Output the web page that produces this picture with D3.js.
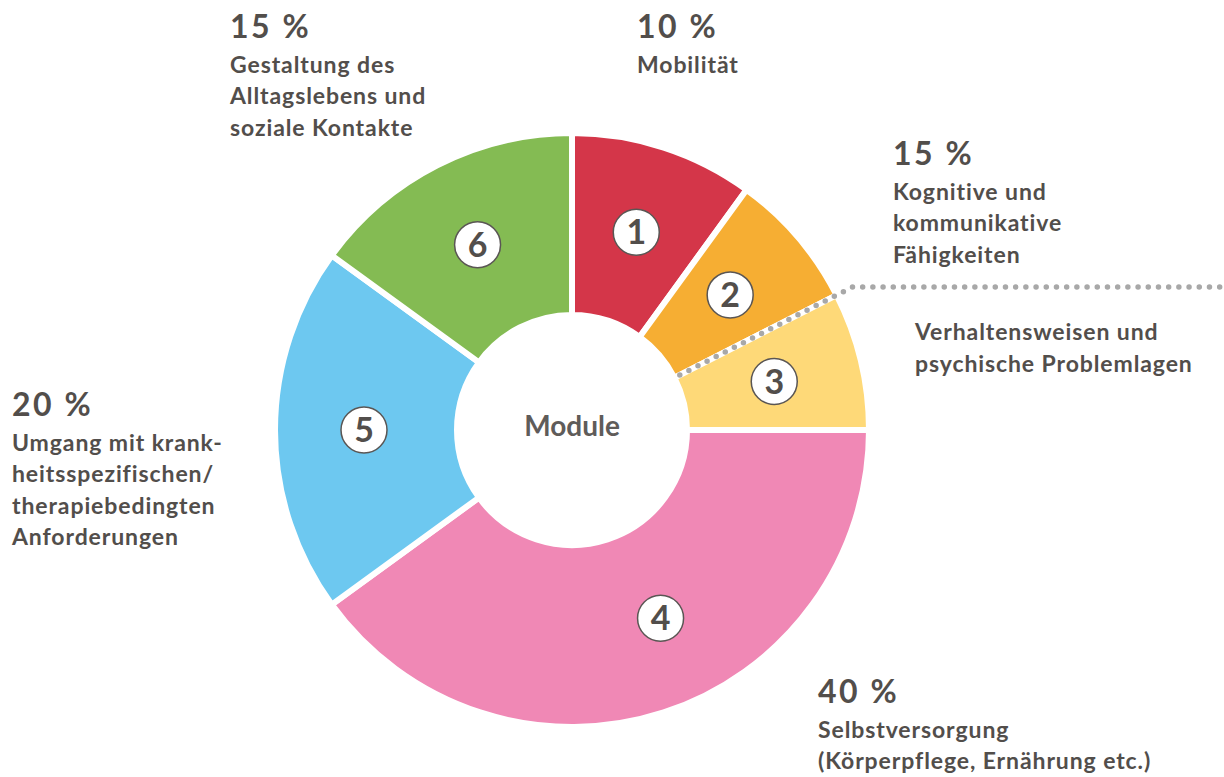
<!DOCTYPE html>
<html><head><meta charset="utf-8">
<script src="https://cdn.jsdelivr.net/npm/d3@7"></script>
<style>
html,body{margin:0;padding:0;background:#fff;}
svg{display:block;}
</style></head>
<body>
<svg id="chart" width="1224" height="777"></svg>
<script>
// ---- data ----
const moduleNumbers = ["1","2","3","4","5","6"];
const moduleShares = [10, 7.5, 7.5, 40, 20, 15];
const moduleColors = ["#d43649","#f6ae33","#fed978","#f088b5","#6dc8f0","#84bb53"];
const centerLabel = "Module";
const percentLabels = ["10 %","15 %","40 %","20 %","15 %"];
const labelLines = [
  ["Mobilität"],
  ["Kognitive und","kommunikative","Fähigkeiten"],
  ["Selbstversorgung","(Körperpflege, Ernährung etc.)"],
  ["Umgang mit krank-","heitsspezifischen/","therapiebedingten","Anforderungen"],
  ["Gestaltung des","Alltagslebens und","soziale Kontakte"]
];
const extraLabelLines = ["Verhaltensweisen und","psychische Problemlagen"];

// ---- layout ----
const svg = d3.select("#chart");
const cx = 572, cy = 430, rOuter = 297, rInner = 115;
const textColor = "#524e4b";
const font = "Lato, 'Open Sans', sans-serif";

const pie = d3.pie().sort(null).value(d => d).startAngle(0).endAngle(2*Math.PI);
const arcs = pie(moduleShares);
const arc = d3.arc().innerRadius(rInner).outerRadius(rOuter);
const g = svg.append("g").attr("transform", `translate(${cx},${cy})`);

g.selectAll("path.slice").data(arcs).join("path")
  .attr("class","slice")
  .attr("d", arc)
  .attr("fill", (d,i) => moduleColors[i])
  .attr("stroke", "#fff")
  .attr("stroke-width", 6)
  .attr("stroke-linejoin", "miter");

// dotted separator between module 2 and 3, extended to the right edge
const sepAngle = arcs[2].startAngle;
const dir = [Math.sin(sepAngle), -Math.cos(sepAngle)];
const yLine = 287 - cy;
const tBend = -yLine / Math.cos(sepAngle);
const p0 = [dir[0]*(rInner+6), dir[1]*(rInner+6)];
const p1 = [dir[0]*tBend, yLine];
const p2 = [1224 - cx + 10, yLine];
g.append("path")
  .attr("d", d3.line()([p0,p1,p2]))
  .attr("fill","none")
  .attr("stroke","#a8a8a8")
  .attr("stroke-width",5.5)
  .attr("stroke-linecap","round")
  .attr("stroke-dasharray","0 10.2");

// number badges (the large slice gets its badge a bit before its middle)
const rBadge = (rInner + rOuter) / 2 + 2;
const badgeFrac = i => (i === 3 ? 0.45 : 0.5);
const badgePos = (d,i) => {
  const a = d.startAngle + (d.endAngle - d.startAngle) * badgeFrac(i);
  return [Math.sin(a)*rBadge, -Math.cos(a)*rBadge];
};
const badges = g.selectAll("g.badge").data(arcs).join("g")
  .attr("class","badge")
  .attr("transform", (d,i) => `translate(${badgePos(d,i)})`);
badges.append("circle").attr("r", 23).attr("fill","#fff")
  .attr("stroke", "#5a5654").attr("stroke-width", 1.5);
badges.append("text").text((d,i) => moduleNumbers[i])
  .attr("text-anchor","middle").attr("dy","0.36em")
  .attr("font-family", font).attr("font-weight","bold").attr("font-size", 34)
  .attr("fill", textColor);

// center label
g.append("text").text(centerLabel)
  .attr("text-anchor","middle").attr("y", 6)
  .attr("font-family", font).attr("font-weight","bold").attr("font-size", 28)
  .attr("fill", "#5f5c5a");

// outer labels
const labelPos = [
  {x:637, y:38},
  {x:893, y:165},
  {x:818, y:703},
  {x:12,  y:416},
  {x:230, y:38}
];
const lineH = 31.3;
const bodySize = 23, bodySpacing = 0.9;
percentLabels.forEach((p,i) => {
  const t = svg.append("text")
    .attr("font-family", font).attr("font-weight","bold").attr("fill", textColor);
  t.append("tspan").attr("x", labelPos[i].x).attr("y", labelPos[i].y)
    .attr("font-size", 32).attr("letter-spacing", 2.5).text(p);
  labelLines[i].forEach((l,j) => {
    t.append("tspan").attr("x", labelPos[i].x).attr("y", labelPos[i].y + 35 + j*lineH)
      .attr("font-size", bodySize).attr("letter-spacing", bodySpacing).text(l);
  });
});
const t2 = svg.append("text")
  .attr("font-family", font).attr("font-weight","bold").attr("fill", textColor);
extraLabelLines.forEach((l,j) => {
  t2.append("tspan").attr("x", 915).attr("y", 340 + j*31.5)
    .attr("font-size", bodySize).attr("letter-spacing", bodySpacing).text(l);
});
</script>
</body></html>
